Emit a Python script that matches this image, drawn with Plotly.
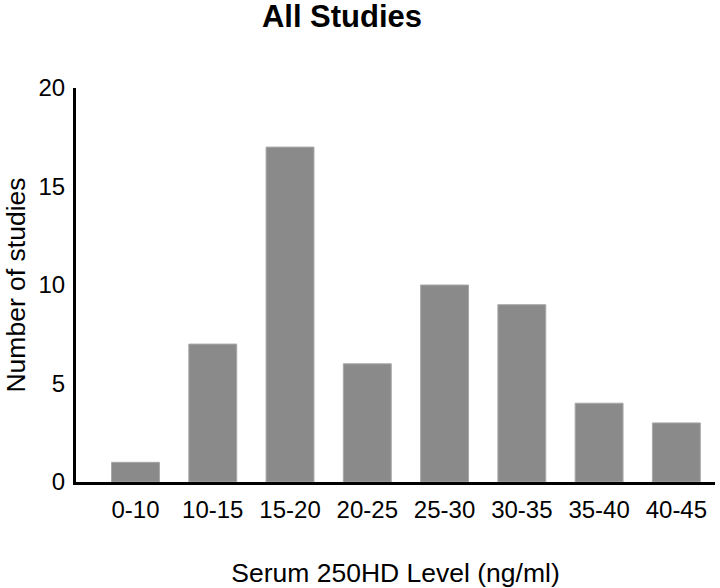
import plotly.graph_objects as go

levels = ['0-10', '10-15', '15-20', '20-25', '25-30', '30-35', '35-40', '40-45']
studies = [1, 7, 17, 6, 10, 9, 4, 3]
y_ticks = [0, 5, 10, 15, 20]

fig = go.Figure(go.Bar(
    x=levels,
    y=studies,
    marker=dict(color='#8a8a8a', line=dict(color='#a8a8a8', width=1)),
    width=0.62,
))

fig.update_layout(
    width=720,
    height=588,
    margin=dict(l=76, r=5, t=88, b=106),
    plot_bgcolor='white',
    paper_bgcolor='white',
    font=dict(family='Liberation Sans, Arial, sans-serif', size=24, color='black'),
    title=dict(
        text='<b>All Studies</b>',
        font=dict(size=31, color='black'),
        x=342 / 720, xanchor='center',
        y=1 - 16 / 588, yanchor='middle',
    ),
    xaxis=dict(
        range=[-0.77, 7.5],
        showline=True, linecolor='black', linewidth=3,
        ticks='', showgrid=False, zeroline=False,
        tickfont=dict(size=24),
        ticklabelstandoff=4,
        automargin=False,
        title=dict(text='Serum 250HD Level (ng/ml)', font=dict(size=26.5), standoff=42),
    ),
    yaxis=dict(
        range=[0, 20],
        tickvals=y_ticks,
        showline=True, linecolor='black', linewidth=3,
        ticks='', showgrid=False, zeroline=False,
        tickfont=dict(size=24),
        ticklabelstandoff=3,
        automargin=False,
        title=dict(text='Number of studies', font=dict(size=26.5), standoff=6),
    ),
    showlegend=False,
)

# drop the default 8px body margin so the figure sits at the window origin
fig.write_html("out.html", config={'displayModeBar': False},
               post_script="document.body.style.margin='0';")
